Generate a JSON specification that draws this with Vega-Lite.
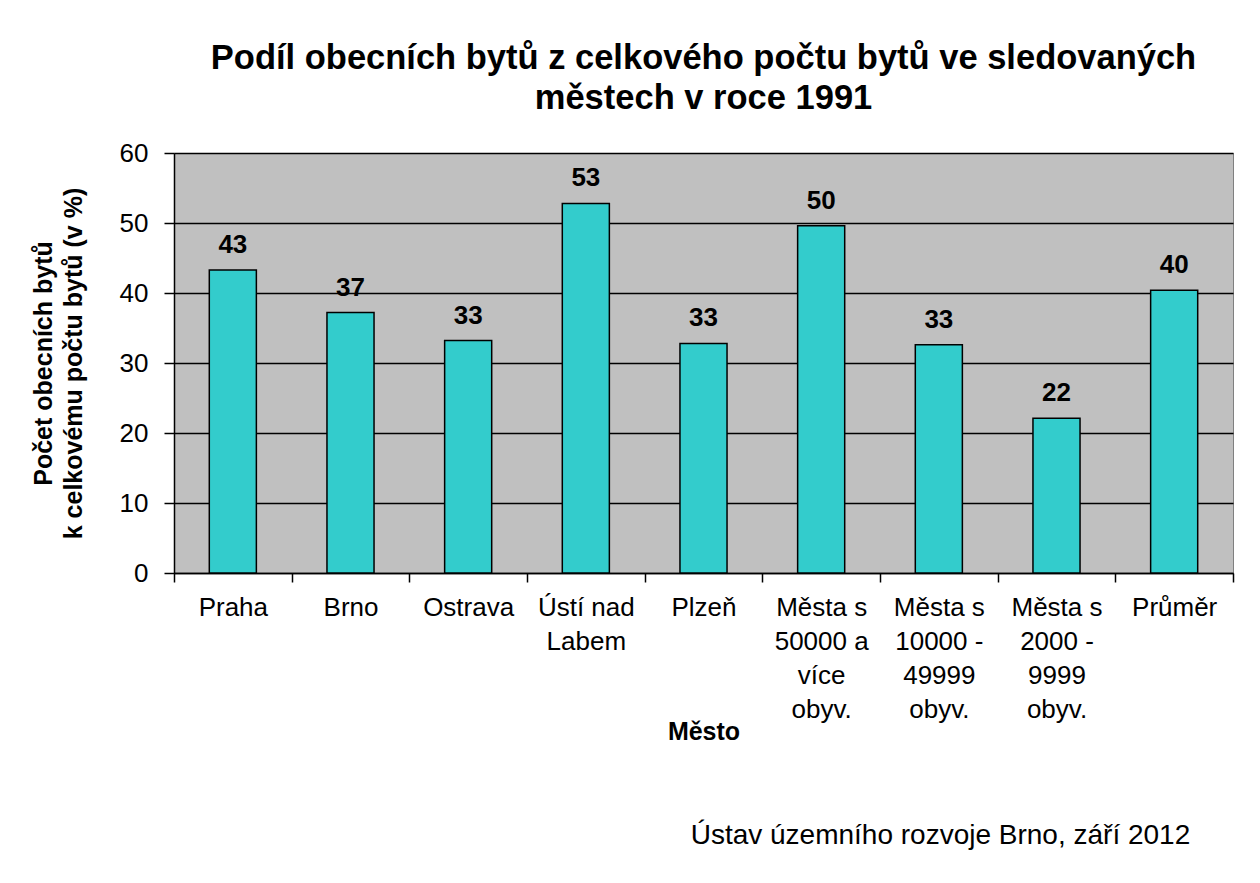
{
  "$schema": "https://vega.github.io/schema/vega-lite/v6.json",
  "background": "white",
  "padding": {"left": 30, "top": 40, "right": 20, "bottom": 20},
  "title": {
    "text": "Ústav územního rozvoje Brno, září 2012",
    "orient": "bottom",
    "anchor": "end",
    "font": "Liberation Sans",
    "fontSize": 28,
    "fontWeight": "normal",
    "color": "black",
    "offset": 77,
    "dx": -44
  },
  "vconcat": [
    {
      "width": 1059,
      "height": 420,
      "title": {
        "text": ["Podíl obecních bytů z celkového počtu bytů ve sledovaných", "městech v roce 1991"],
        "font": "Liberation Sans",
        "fontSize": 34.5,
        "fontWeight": "bold",
        "color": "black",
        "anchor": "middle",
        "lineHeight": 40,
        "offset": 24
      },
      "data": {
        "values": [
          {"mesto": "Praha", "podil": 43.3},
          {"mesto": "Brno", "podil": 37.2},
          {"mesto": "Ostrava", "podil": 33.2},
          {"mesto": "Ústí nad Labem", "podil": 52.8},
          {"mesto": "Plzeň", "podil": 32.8},
          {"mesto": "Města s 50000 a více obyv.", "podil": 49.6},
          {"mesto": "Města s 10000 - 49999 obyv.", "podil": 32.6},
          {"mesto": "Města s 2000 - 9999 obyv.", "podil": 22.1},
          {"mesto": "Průměr", "podil": 40.4}
        ]
      },
      "encoding": {
        "x": {
          "field": "mesto",
          "type": "nominal",
          "sort": null,
          "title": "Město",
          "scale": {"paddingInner": 0, "paddingOuter": 0},
          "axis": {
            "labelAngle": 0,
            "tickBand": "extent",
            "labelExpr": "datum.value == 'Ústí nad Labem' ? ['Ústí nad', 'Labem'] : datum.value == 'Města s 50000 a více obyv.' ? ['Města s', '50000 a', 'více', 'obyv.'] : datum.value == 'Města s 10000 - 49999 obyv.' ? ['Města s', '10000 -', '49999', 'obyv.'] : datum.value == 'Města s 2000 - 9999 obyv.' ? ['Města s', '2000 -', '9999', 'obyv.'] : datum.value",
            "labelLineHeight": 34,
            "labelPadding": 12,
            "labelFontSize": 26,
            "tickSize": 9,
            "titlePadding": -3
          }
        },
        "y": {
          "field": "podil",
          "type": "quantitative",
          "scale": {"domain": [0, 60]},
          "title": ["Počet obecních bytů", "k celkovému počtu bytů (v %)"],
          "axis": {
            "values": [0, 10, 20, 30, 40, 50, 60],
            "tickSize": 10,
            "labelPadding": 16,
            "titlePadding": 33,
            "grid": true
          }
        }
      },
      "layer": [
        {
          "mark": {"type": "bar", "color": "#33CCCC", "stroke": "black", "strokeWidth": 1.5, "width": {"band": 0.4}}
        },
        {
          "mark": {
            "type": "text",
            "baseline": "bottom",
            "dy": -12,
            "font": "Liberation Sans",
            "fontSize": 26,
            "fontWeight": "bold",
            "color": "black"
          },
          "encoding": {
            "text": {"field": "podil", "type": "quantitative", "format": ".0f"}
          }
        }
      ]
    }
  ],
  "config": {
    "view": {"fill": "#C0C0C0", "stroke": "#808080", "strokeWidth": 1},
    "axis": {
      "domainColor": "black",
      "domainWidth": 1.5,
      "tickColor": "black",
      "tickWidth": 1.5,
      "gridColor": "black",
      "gridWidth": 1.5,
      "labelFont": "Liberation Sans",
      "labelFontSize": 26,
      "labelColor": "black",
      "titleFont": "Liberation Sans",
      "titleFontSize": 25,
      "titleFontWeight": "bold",
      "titleColor": "black",
      "titleLineHeight": 30
    },
    "axisX": {"grid": false}
  }
}
